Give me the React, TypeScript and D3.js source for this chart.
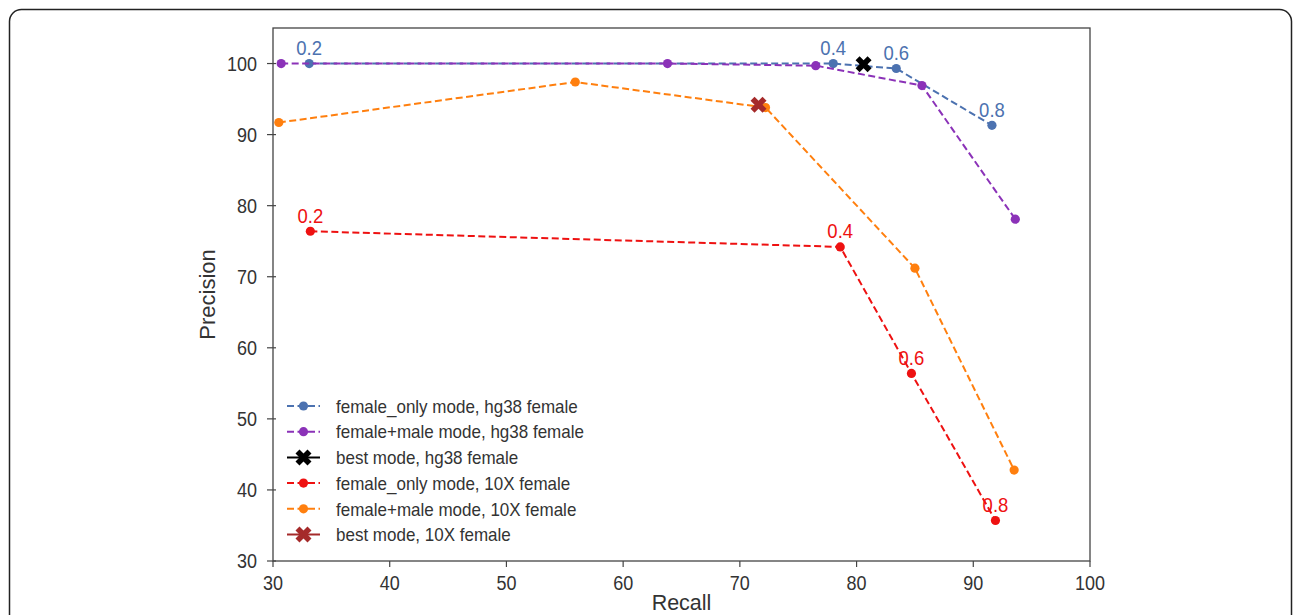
import * as d3 from "d3";
import { useEffect, useRef } from "react";

// Recall / precision
const thresholds = ["0.2", "0.4", "0.6", "0.8"];

const recallFemaleOnlyHg38 = [33.1, 78.0, 83.4, 91.6];
const precisionFemaleOnlyHg38 = [100, 100, 99.3, 91.3];

const recallFemaleMaleHg38 = [30.7, 63.8, 76.5, 85.6, 93.6];
const precisionFemaleMaleHg38 = [100, 100, 99.7, 96.9, 78.1];

const recallBestHg38 = [80.6];
const precisionBestHg38 = [99.9];

const recallFemaleOnly10X = [33.2, 78.6, 84.7, 91.9];
const precisionFemaleOnly10X = [76.4, 74.2, 56.4, 35.7];

const recallFemaleMale10X = [30.5, 55.9, 72.2, 85.0, 93.5];
const precisionFemaleMale10X = [91.7, 97.4, 93.8, 71.2, 42.8];

const recallBest10X = [71.6];
const precisionBest10X = [94.2];

const xTicks = [30, 40, 50, 60, 70, 80, 90, 100];
const yTicks = [30, 40, 50, 60, 70, 80, 90, 100];

type Series = {
  label: string;
  xs: number[];
  ys: number[];
  color: string;
  marker: "circle" | "x";
  dashed: boolean;
  annotate: boolean;
};

const series: Series[] = [
  { label: "female_only mode, hg38 female", xs: recallFemaleOnlyHg38, ys: precisionFemaleOnlyHg38, color: "#4c72b0", marker: "circle", dashed: true, annotate: true },
  { label: "female+male mode, hg38 female", xs: recallFemaleMaleHg38, ys: precisionFemaleMaleHg38, color: "#8b32b8", marker: "circle", dashed: true, annotate: false },
  { label: "best mode, hg38 female", xs: recallBestHg38, ys: precisionBestHg38, color: "#000000", marker: "x", dashed: false, annotate: false },
  { label: "female_only mode, 10X female", xs: recallFemaleOnly10X, ys: precisionFemaleOnly10X, color: "#ee1111", marker: "circle", dashed: true, annotate: true },
  { label: "female+male mode, 10X female", xs: recallFemaleMale10X, ys: precisionFemaleMale10X, color: "#ff7f0e", marker: "circle", dashed: true, annotate: false },
  { label: "best mode, 10X female", xs: recallBest10X, ys: precisionBest10X, color: "#a52a2a", marker: "x", dashed: false, annotate: false },
];

const W = 1293;
const H = 615;
const FONT = "'Liberation Sans', Arial, Helvetica, sans-serif";
const STRETCH = 1.1; // glyphs in the reference are a little taller than wide

const App = () => {
  const svgRef = useRef<SVGSVGElement | null>(null);

  useEffect(() => {
    if (!svgRef.current) return;
    const svg = d3.select(svgRef.current);
    svg.selectAll("*").remove();

    const left = 273;
    const right = 1090;
    const top = 28;
    const bottom = 561;

    const x = d3.scaleLinear().domain([30, 100]).range([left, right]);
    const y = d3.scaleLinear().domain([30, 105]).range([bottom, top]);

    const tickColor = "#333";

    // text placed at (tx, ty) and stretched vertically a touch
    const addText = (g: any, tx: number, ty: number, str: string, size: number, anchor: string, color: string, dy = "0") =>
      g.append("text")
        .attr("transform", `translate(${tx},${ty}) scale(1,${STRETCH})`)
        .attr("dy", dy)
        .attr("text-anchor", anchor)
        .attr("font-family", FONT)
        .attr("font-size", size)
        .attr("fill", color)
        .text(str);

    // outer frame of the figure (cropped on the right and bottom)
    svg
      .append("rect")
      .attr("x", 9.5)
      .attr("y", 9.5)
      .attr("width", 1282)
      .attr("height", 700)
      .attr("rx", 12)
      .attr("fill", "white")
      .attr("stroke", "#222")
      .attr("stroke-width", 1.5);

    // axes box
    svg
      .append("rect")
      .attr("x", left)
      .attr("y", top)
      .attr("width", right - left)
      .attr("height", bottom - top)
      .attr("fill", "none")
      .attr("stroke", "#444")
      .attr("stroke-width", 1.3);

    // x ticks
    const gx = svg.append("g");
    xTicks.forEach((t) => {
      gx.append("line")
        .attr("x1", x(t)).attr("x2", x(t))
        .attr("y1", bottom).attr("y2", bottom + 6)
        .attr("stroke", "#444").attr("stroke-width", 1.2);
      addText(gx, x(t), 590, String(t), 18, "middle", tickColor);
    });

    // y ticks
    const gy = svg.append("g");
    yTicks.forEach((t) => {
      gy.append("line")
        .attr("x1", left - 6).attr("x2", left + 3)
        .attr("y1", y(t)).attr("y2", y(t))
        .attr("stroke", "#444").attr("stroke-width", 1.2);
      addText(gy, 257, y(t), String(t), 18, "end", tickColor, "0.36em");
    });

    svg.append("text")
      .attr("x", (left + right) / 2).attr("y", 610)
      .attr("text-anchor", "middle")
      .attr("font-family", FONT).attr("font-size", 21.5)
      .attr("fill", tickColor)
      .text("Recall");

    svg.append("text")
      .attr("transform", `translate(215,${(top + bottom) / 2}) rotate(-90)`)
      .attr("text-anchor", "middle")
      .attr("font-family", FONT).attr("font-size", 22)
      .attr("fill", tickColor)
      .text("Precision");

    const line = d3.line<[number, number]>().x((d) => x(d[0])).y((d) => y(d[1]));
    const xSymbol = d3.symbol().type(d3.symbolCross).size(160);

    const drawMarker = (g: any, s: Series, cx: number, cy: number) => {
      if (s.marker === "circle") {
        g.append("circle").attr("cx", cx).attr("cy", cy).attr("r", 4.6).attr("fill", s.color);
      } else {
        g.append("path")
          .attr("d", xSymbol())
          .attr("transform", `translate(${cx},${cy}) rotate(45)`)
          .attr("fill", s.color);
      }
    };

    const plot = svg.append("g");
    series.forEach((s) => {
      const pts = s.xs.map((v, i) => [v, s.ys[i]] as [number, number]);
      const g = plot.append("g");
      if (pts.length > 1) {
        g.append("path")
          .attr("d", line(pts))
          .attr("fill", "none")
          .attr("stroke", s.color)
          .attr("stroke-width", 2)
          .attr("stroke-dasharray", s.dashed ? "7,3.5" : null);
      }
      pts.forEach((p) => drawMarker(g, s, x(p[0]), y(p[1])));
      if (s.annotate) {
        pts.forEach((p, i) => {
          addText(g, x(p[0]), y(p[1]) - 8.5, thresholds[i], 18.5, "middle", s.color);
        });
      }
    });

    // legend
    const lg = svg.append("g");
    const rowY0 = 406;
    const rowStep = 25.7;
    series.forEach((s, i) => {
      const ry = rowY0 + i * rowStep;
      lg.append("line")
        .attr("x1", 287).attr("x2", 320)
        .attr("y1", ry).attr("y2", ry)
        .attr("stroke", s.color).attr("stroke-width", 2)
        .attr("stroke-dasharray", s.dashed ? "7,3.5" : null);
      drawMarker(lg, s, 303.5, ry);
      addText(lg, 336, ry, s.label, 17, "start", tickColor, "0.36em");
    });
  }, []);

  return (
    <svg
      ref={svgRef}
      width={W}
      height={H}
      style={{ position: "absolute", left: 0, top: 0, background: "white" }}
    />
  );
};

export default App;
